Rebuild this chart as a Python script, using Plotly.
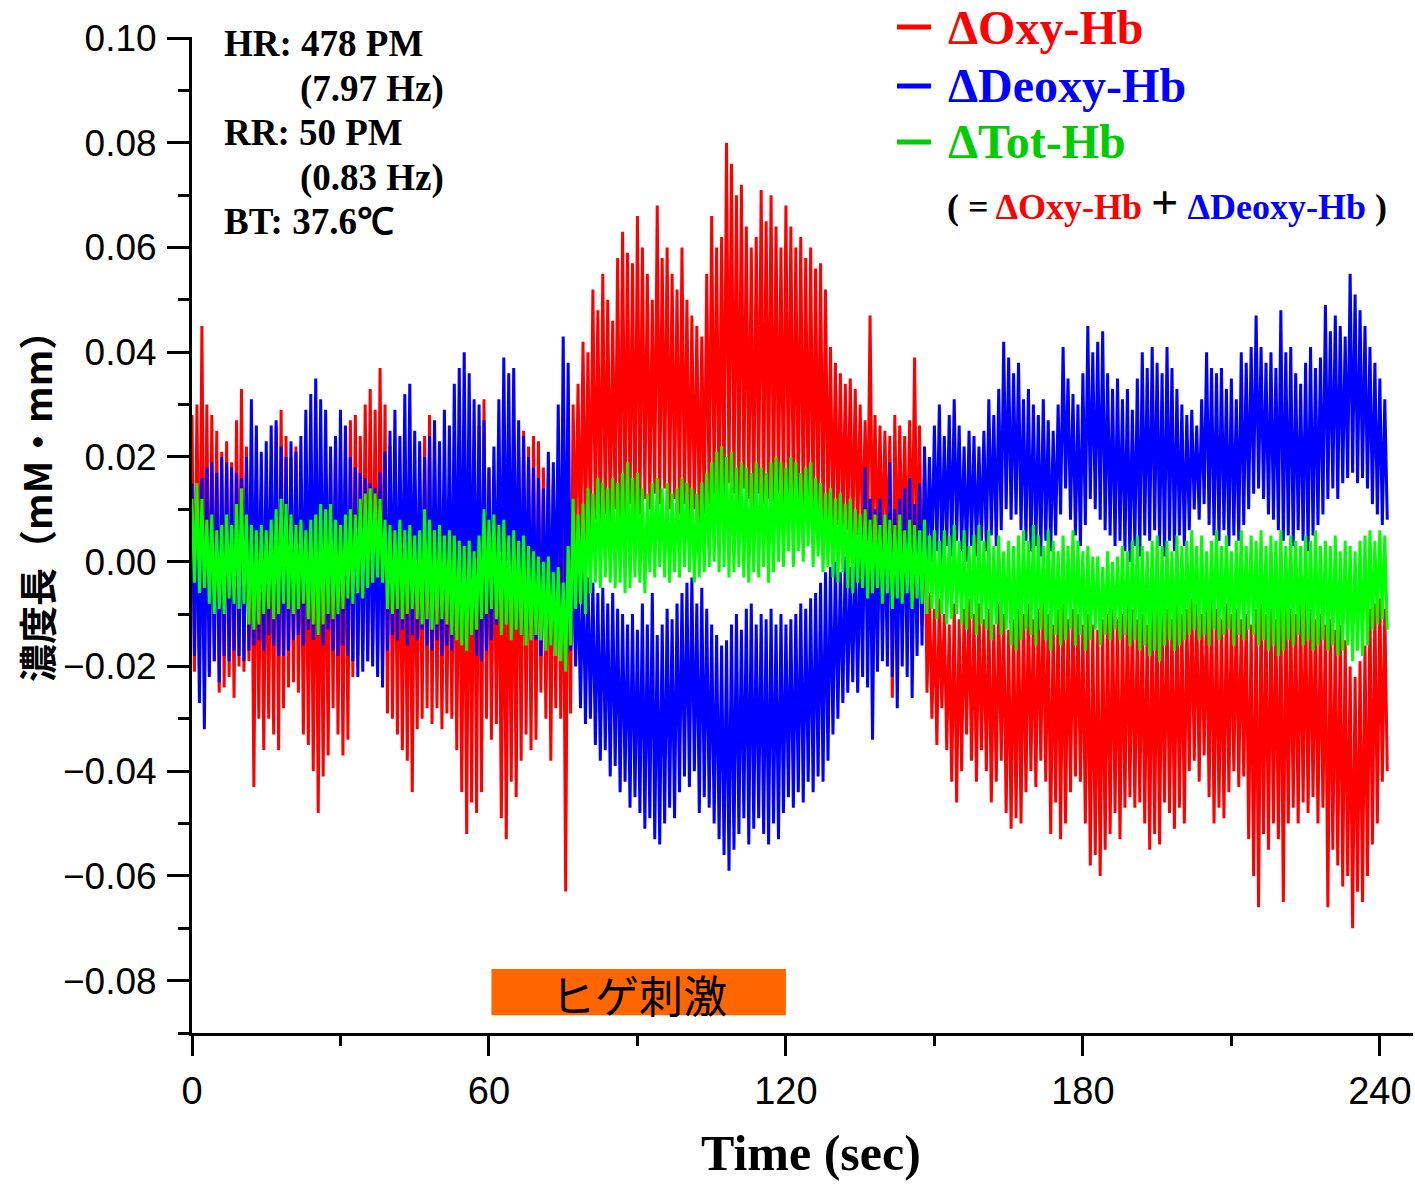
import plotly.graph_objects as go

# ---- data (units of 1e-3 mM·mm), per-second envelope readings: upper / lower extremes ----
time_s = list(range(242))

oxy_hi = [28, 30, 45, 30, 28, 25, 21, 23, 19, 27,
          33, 22, 17, 16, 14, 12, 15, 26, 29, 24,
          20, 22, 16, 14, 13, 15, 12, 16, 20, 23,
          17, 22, 27, 28, 24, 30, 33, 29, 37, 30,
          22, 15, 12, 10, 12, 14, 16, 24, 28, 20,
          15, 13, 12, 14, 13, 12, 16, 22, 26, 31,
          18, 15, 12, 10, 12, 14, 20, 25, 22, 24,
          23, 18, 16, 15, 14, 12, 20, 30, 34, 42,
          40, 52, 48, 55, 50, 46, 58, 63, 59, 57,
          66, 60, 55, 50, 68, 58, 60, 55, 52, 60,
          50, 47, 45, 43, 55, 66, 60, 62, 80, 76,
          70, 72, 64, 60, 62, 71, 65, 70, 64, 60,
          68, 64, 60, 62, 58, 60, 56, 57, 52, 41,
          38, 36, 34, 35, 33, 30, 27, 47, 28, 26,
          25, 24, 28, 26, 24, 27, 39, 26, 20, -6,
          -9, -7, -10, -12, -8, -11, -9, -7, -10, -8,
          -11, -9, -12, -8, -10, -13, -11, -9, -10, -8,
          -11, -9, -7, -10, -12, -9, -8, -11, -9, -10,
          -12, -10, -12, -13, -11, -10, -9, -11, -10, -8,
          -9, -11, -10, -12, -9, -8, -10, -9, -11, -8,
          -10, -9, -7, -8, -10, -9, -7, -9, -11, -8,
          -10, -9, -11, -10, -12, -9, -8, -10, -9, -11,
          -8, -7, -9, -10, -8, -7, -9, -11, -10, -12,
          -11, -13, -12, -15, -20, -22, -19, -16, -9, -8,
          -7, -9]
oxy_lo = [-21, -20, -18, -21, -19, -25, -24, -22, -26, -20,
          -21, -19, -43, -30, -36, -30, -33, -36, -28, -24,
          -23, -25, -33, -35, -40, -48, -41, -37, -28, -33,
          -37, -34, -22, -18, -17, -19, -16, -18, -20, -29,
          -30, -33, -36, -38, -44, -32, -30, -28, -31, -28,
          -32, -29, -30, -36, -44, -52, -46, -48, -44, -30,
          -34, -31, -49, -53, -42, -45, -38, -33, -36, -34,
          -25, -30, -38, -28, -30, -63, -29, 2, 0, 4,
          6, 8, 5, 9, 7, 10, 6, 8, 11, 7,
          9, 12, 10, 13, 11, 14, 10, 12, 9, 11,
          8, 10, 7, 9, 11, 13, 10, 12, 15, 13,
          11, 14, 12, 10, 13, 11, 12, 10, 13, 11,
          12, 10, 11, 9, 10, 8, 9, 7, 8, 6,
          7, 5, 6, 4, 5, 3, 4, 2, 3, 1,
          2, -26, -2, 1, -1, 0, -3, -12, -25, -30,
          -35, -28, -36, -42, -46, -40, -33, -38, -42, -36,
          -40, -46, -42, -38, -48, -51, -49, -50, -44, -40,
          -43, -38, -42, -52, -46, -53, -50, -44, -41, -42,
          -50, -58, -56, -60, -55, -52, -48, -53, -47, -45,
          -47, -46, -50, -55, -52, -54, -46, -48, -51, -47,
          -50, -40, -38, -42, -37, -45, -50, -47, -49, -44,
          -40, -43, -41, -53, -60, -66, -52, -55, -50, -53,
          -65, -50, -47, -50, -46, -48, -45, -50, -47, -66,
          -55, -58, -62, -60, -70, -63, -65, -60, -54, -50,
          -42, -40]

deoxy_hi = [15, 14, 16, 18, 19, 17, 20, 19, 18, 17,
            16, 20, 31, 26, 21, 23, 26, 27, 22, 20,
            23, 21, 24, 29, 32, 35, 31, 29, 22, 24,
            29, 26, 20, 18, 17, 16, 15, 14, 17, 21,
            25, 29, 24, 32, 34, 25, 23, 20, 24, 27,
            23, 29, 26, 34, 37, 40, 36, 31, 30, 27,
            18, 22, 31, 39, 36, 37, 27, 24, 20, 18,
            16, 14, 21, 19, 30, 43, 38, 0, -2, -1,
            -3, -4, -6, -5, -8, -6, -9, -10, -12, -10,
            -13, -8, -12, -6, -14, -12, -9, -11, -8, -6,
            -4, -3, -8, -5, -9, -12, -14, -16, -15, -12,
            -10, -13, -9, -8, -12, -10, -11, -9, -12, -10,
            -12, -11, -10, -8, -9, -7, -6, -4, -2, -1,
            0, -2, 1, -1, 2, 4, 18, 12, 10, 12,
            9, 19, 10, 12, 14, 16, 11, 15, 22, 20,
            26, 30, 24, 28, 31, 26, 22, 25, 24, 22,
            25, 31, 28, 33, 42, 39, 36, 38, 31, 33,
            30, 28, 31, 27, 25, 30, 41, 35, 32, 30,
            36, 45, 40, 42, 44, 36, 33, 35, 31, 33,
            29, 35, 40, 37, 41, 38, 36, 41, 37, 33,
            30, 28, 29, 26, 31, 40, 37, 36, 37, 33,
            35, 31, 40, 38, 41, 47, 41, 38, 40, 37,
            48, 40, 41, 36, 34, 38, 41, 37, 39, 49,
            44, 47, 45, 43, 55, 51, 48, 45, 41, 38,
            35, 31]
deoxy_lo = [-18, -27, -32, -22, -19, -23, -18, -19, -17, -18,
            -19, -17, -16, -15, -17, -14, -16, -18, -18, -17,
            -15, -14, -16, -13, -15, -14, -16, -13, -17, -18,
            -16, -18, -19, -22, -21, -19, -20, -22, -24, -17,
            -14, -15, -13, -16, -14, -15, -13, -16, -17, -15,
            -18, -16, -17, -14, -15, -16, -14, -18, -19, -17,
            -15, -12, -14, -10, -13, -12, -14, -11, -13, -15,
            -18, -14, -16, -13, -15, -14, -17, -20, -28, -31,
            -30, -35, -38, -36, -41, -39, -44, -42, -47, -45,
            -48, -51, -49, -53, -54, -50, -47, -49, -44, -41,
            -43, -40, -48, -45, -47, -50, -53, -56, -59, -55,
            -52, -49, -54, -51, -49, -52, -54, -50, -53, -48,
            -45, -47, -44, -46, -42, -44, -41, -42, -38, -33,
            -30, -27, -25, -23, -25, -22, -24, -34, -21, -19,
            -20, -22, -28, -20, -22, -26, -18, -16, -2, 0,
            2, -1, 3, 1, 4, 2, 0, 3, 1, 4,
            2, 5, 3, 6, 10, 8, 9, 6, 4, 2,
            3, 1, 4, 2, 5, 9, 14, 8, 5, 3,
            7, 12, 10, 8, 6, 5, 3, 4, 2, 0,
            3, 1, 5, 4, 6, 3, 1, 4, 2, 5,
            3, 6, 10, 8, 11, 7, 5, 4, 6, 3,
            5, 4, 7, 10, 13, 14, 12, 9, 8, 6,
            4, 5, 3, 6, 4, 2, 5, 7, 9, 12,
            14, 12, 15, 16, 17, 15, 16, 14, 11, 9,
            7, 8]

tot_hi = [12, 15, 12, 8, 9, 6, 7, 9, 7, 11,
          14, 9, 7, 6, 7, 6, 8, 10, 12, 11,
          9, 7, 8, 6, 8, 9, 11, 10, 11, 8,
          7, 9, 10, 9, 12, 13, 14, 13, 12, 8,
          7, 6, 8, 6, 7, 5, 6, 10, 8, 6,
          7, 5, 6, 5, 4, 3, 4, 2, 5, 10,
          8, 9, 7, 8, 5, 6, 4, 5, 3, 2,
          1, 0, 1, -2, -1, -4, 3, 12, 9, 11,
          14, 13, 16, 15, 14, 16, 15, 17, 19, 16,
          17, 14, 13, 15, 16, 14, 15, 13, 14, 16,
          15, 14, 13, 15, 17, 19, 21, 22, 20, 21,
          18, 19, 18, 17, 19, 18, 17, 19, 20, 19,
          18, 20, 19, 17, 18, 19, 16, 15, 13, 14,
          12, 13, 11, 12, 10, 9, 10, 8, 9, 7,
          9, 8, 7, 9, 6, 8, 7, 6, 8, 5,
          6, 4, 6, 5, 7, 4, 6, 3, 5, 7,
          4, 6, 3, 5, 2, 4, 3, 5, 6, 4,
          7, 5, 3, 6, 4, 2, 5, 3, 6, 4,
          2, 3, 1, 1, -1, 2, 0, 1, 3, 2,
          4, 5, 3, 2, 4, 5, 3, 4, 2, 5,
          3, 4, 6, 3, 5, 2, 4, 6, 3, 5,
          2, 4, 6, 3, 5, 4, 6, 3, 5, 4,
          6, 3, 5, 4, 3, 5, 4, 6, 3, 4,
          3, 5, 2, 4, 3, 2, 4, 5, 6, 4,
          6, 5]
tot_lo = [-4, -6, -5, -8, -10, -9, -10, -7, -8, -9,
          -8, -12, -13, -12, -10, -9, -11, -10, -8, -9,
          -10, -9, -8, -11, -12, -14, -12, -10, -11, -10,
          -9, -7, -8, -6, -7, -5, -4, -3, -4, -9,
          -10, -9, -11, -10, -9, -11, -12, -11, -13, -12,
          -11, -12, -14, -15, -16, -17, -14, -13, -11, -10,
          -9, -11, -14, -12, -15, -13, -14, -16, -15, -14,
          -15, -17, -16, -18, -19, -21, -16, -9, -8, -10,
          -6, -4, -5, -3, -4, -5, -4, -6, -5, -3,
          -4, -6, -2, -3, -1, -3, -4, -2, -3, -1,
          -2, -4, -3, -2, -1, 0, -2, -1, -3, -2,
          -1, -3, -4, -2, -3, -1, -4, -2, 0, -1,
          2, -1, 2, 0, 3, -1, 1, -2, -1, -3,
          -4, -2, -5, -6, -4, -5, -7, -6, -5, -8,
          -6, -9, -7, -8, -6, -9, -7, -8, -10, -9,
          -11, -10, -12, -11, -10, -12, -13, -11, -14, -12,
          -13, -15, -12, -14, -13, -16, -17, -15, -13, -14,
          -16, -13, -15, -17, -14, -16, -15, -13, -16, -14,
          -17, -15, -13, -16, -14, -15, -13, -15, -14, -16,
          -15, -17, -16, -18, -17, -19, -16, -15, -17, -16,
          -15, -14, -13, -15, -14, -16, -13, -15, -14, -13,
          -16, -14, -15, -13, -14, -16, -15, -17, -16, -18,
          -17, -15, -16, -14, -16, -15, -17, -16, -15, -17,
          -16, -18, -17, -16, -19, -17, -18, -16, -13, -12,
          -11, -13]

stim_window = [60.5, 120]          # whisker stimulation (sec)
x_ticks = [0, 60, 120, 180, 240]
y_ticks = [-0.08, -0.06, -0.04, -0.02, 0.00, 0.02, 0.04, 0.06, 0.08, 0.10]

for arr in (oxy_hi, oxy_lo, deoxy_hi, deoxy_lo, tot_hi, tot_lo):
    assert len(arr) == len(time_s), len(arr)


def band_trace(hi, lo):
    xs, ys = [], []
    for t, h, l in zip(time_s, hi, lo):
        xs += [t, t + 0.5]
        ys += [h / 1000.0, l / 1000.0]
    return xs, ys


RED, BLUE, GREEN = "#FF0000", "#0000FF", "#00FF00"
SERIF = "Liberation Serif, Times New Roman, serif"
SANS = "Liberation Sans, Arial, sans-serif"
CJK = "Noto Sans CJK JP, Noto Sans CJK SC, sans-serif"

fig = go.Figure()
series = [("ΔOxy-Hb", oxy_hi, oxy_lo, RED), ("ΔDeoxy-Hb", deoxy_hi, deoxy_lo, BLUE),
          ("ΔTot-Hb", tot_hi, tot_lo, GREEN)]
for name, hi, lo, col in series:
    xs, ys = band_trace(hi, lo)
    fig.add_trace(go.Scatter(x=xs, y=ys, mode="lines", name=name, showlegend=False,
                             line=dict(color=col, width=3), hoverinfo="skip"))


def px2paper(px, py):
    return (px - 192) / 1221.0, (1033 - py) / 996.0


# legend (drawn as line samples + labels)
legend_rows = [("ΔOxy-Hb", RED, RED, 27), ("ΔDeoxy-Hb", BLUE, BLUE, 86),
               ("ΔTot-Hb", "#00CC00", "#00CC00", 142)]
for name, lcol, tcol, py in legend_rows:
    x0, y0 = px2paper(897, py)
    x1, _ = px2paper(931, py)
    fig.add_shape(type="line", xref="paper", yref="paper", x0=x0, x1=x1, y0=y0, y1=y0,
                  line=dict(color=lcol, width=5))
    xt, _ = px2paper(946, py)
    fig.add_annotation(x=xt, y=y0, xref="paper", yref="paper", xanchor="left", yanchor="middle",
                       text=f"<b>{name}</b>", showarrow=False,
                       font=dict(family=SERIF, size=48, color=tcol))

xp, yp = px2paper(945, 203)
fig.add_annotation(x=xp, y=yp, xref="paper", yref="paper", xanchor="left", yanchor="middle",
                   showarrow=False, font=dict(family=SERIF, size=36, color="black"),
                   text=("<b>( = <span style='color:#FF0000'>ΔOxy-Hb</span> "
                         "<span style='font-size:48px'>+</span> "
                         "<span style='color:#0000FF'>ΔDeoxy-Hb</span> )</b>"))

fig.add_shape(type="rect", xref="x", yref="y", x0=stim_window[0], x1=stim_window[1],
              y0=-0.0866, y1=-0.0778, fillcolor="#FF6600", line=dict(width=0), layer="above")
fig.add_annotation(x=(stim_window[0] + stim_window[1]) / 2, y=-0.0826, xref="x", yref="y",
                   text="ヒゲ刺激", showarrow=False, font=dict(family=CJK, size=44, color="black"))

info = [("HR: 478 PM", 222, 44), ("(7.97 Hz)", 298, 89), ("RR: 50 PM", 222, 133),
        ("(0.83 Hz)", 298, 178), ("BT: 37.6℃", 222, 222)]
for txt, px, py in info:
    xq, yq = px2paper(px, py)
    fig.add_annotation(x=xq, y=yq, xref="paper", yref="paper", xanchor="left", yanchor="middle",
                       text=f"<b>{txt}</b>", showarrow=False,
                       font=dict(family=SERIF, size=37, color="black"))

# y-axis title as rotated annotation
xq, yq = px2paper(36, 497)
fig.add_annotation(x=xq, y=yq, xref="paper", yref="paper", xanchor="center", yanchor="middle",
                   textangle=-90, text="<b>濃度長（mM・mm）</b>", showarrow=False,
                   font=dict(family=CJK, size=38, color="black"))
# x-axis title
xq, yq = px2paper(811, 1153)
fig.add_annotation(x=xq, y=yq, xref="paper", yref="paper", xanchor="center", yanchor="middle",
                   text="<b>Time (sec)</b>", showarrow=False,
                   font=dict(family=SERIF, size=50, color="black"))

fig.update_layout(
    width=1415, height=1184,
    margin=dict(l=192, r=2, t=37, b=151, autoexpand=False),
    plot_bgcolor="white", paper_bgcolor="white", showlegend=False,
    xaxis=dict(range=[0, 246.7], tickmode="array", tickvals=x_ticks,
               ticktext=[str(v) for v in x_ticks],
               ticks="outside", ticklen=20, tickwidth=3, tickcolor="black",
               showline=True, linewidth=3, linecolor="black", showgrid=False, zeroline=False,
               minor=dict(tickmode="linear", tick0=30, dtick=60, ticks="outside", ticklen=10,
                          tickwidth=3, tickcolor="black", showgrid=False),
               tickfont=dict(family=SANS, size=38, color="black"), ticklabelstandoff=2),
    yaxis=dict(range=[-0.09, 0.1002], tickmode="array", tickvals=y_ticks,
               ticktext=[f"{v:.2f}".replace("-", "\u2212") for v in y_ticks],
               ticks="outside", ticklen=22, tickwidth=3, tickcolor="black",
               showline=True, linewidth=3, linecolor="black", showgrid=False, zeroline=False,
               minor=dict(tickmode="linear", tick0=-0.09, dtick=0.02, ticks="outside",
                          ticklen=11, tickwidth=3, tickcolor="black", showgrid=False),
               tickfont=dict(family=SANS, size=37, color="black"), ticklabelstandoff=3),
)

fig.write_html("out.html")
